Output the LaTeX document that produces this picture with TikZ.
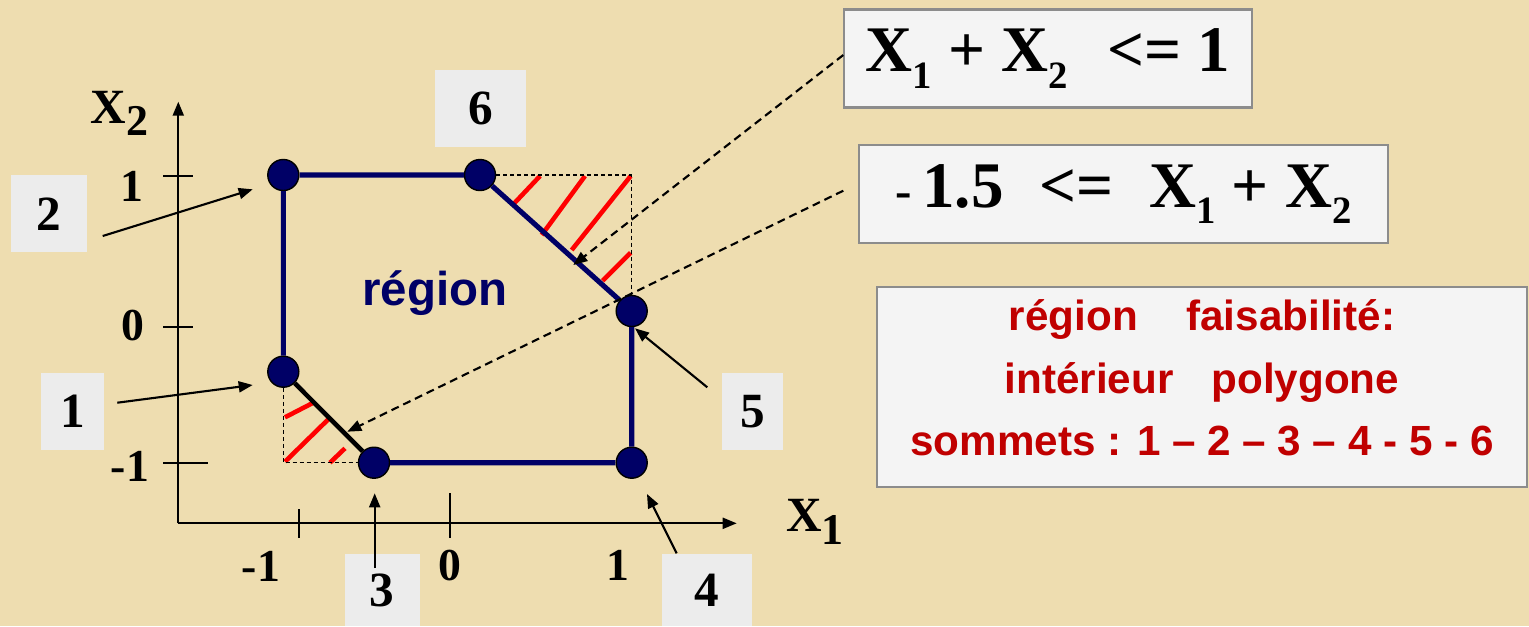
\documentclass[tikz,border=0pt]{standalone}
\usepackage{fontspec}
\setmainfont{Liberation Serif}
\setsansfont{Liberation Sans}
\usepackage{xcolor}
\usepackage{tikz}
\usetikzlibrary{arrows.meta,positioning,calc}
\definecolor{parchment}{RGB}{238,221,176}
\definecolor{navy}{RGB}{0,0,102}
\definecolor{darkred}{RGB}{192,0,0}
\definecolor{boxgray}{RGB}{244,244,244}
\definecolor{tabgray}{RGB}{236,236,236}
\definecolor{rimgray}{RGB}{140,140,140}
\newcommand{\Xsub}[2][11]{X\raisebox{-0.25em}{\fontsize{#1}{#1}\selectfont #2}}

\begin{document}
\begin{tikzpicture}[
            x=0.01cm,y=-0.01cm,
            vertex/.style={circle,draw=black,line width=0.4pt,fill=navy,minimum size=0.31cm,inner sep=0pt},
            side/.style={navy,line width=1.45pt},
            hatch/.style={red,line width=1.3pt},
            guide/.style={line width=0.4pt,dash pattern=on 0.4mm off 0.3mm},
            axis/.style={-{Triangle[length=1.4mm,width=1.1mm]},line width=0.6pt},
            axistick/.style={line width=0.6pt},
            pointer/.style={-{Triangle[length=1.4mm,width=1.1mm]},line width=0.6pt},
            dashptr/.style={pointer,dash pattern=on 0.8mm off 0.5mm},
            ticklab/.style={inner sep=0pt,font=\fontsize{13}{13}\selectfont\bfseries},
            numbox/.style={fill=tabgray,minimum height=0.77cm,inner sep=0pt,font=\fontsize{14}{14}\selectfont\bfseries},
            eqbox/.style={draw=rimgray,line width=0.6pt,fill=boxgray,minimum height=0.98cm,inner sep=0pt,font=\fontsize{18.5}{20}\selectfont\bfseries}
        ]
            \path[use as bounding box,fill=parchment] (0,0) rectangle (1529,626);

            \coordinate (O) at (178.3,523.3);
            \coordinate (ytop) at (178.3,101.7);
            \coordinate (xend) at (736.7,523.3);
            \draw[axis] (O) -- (ytop);
            \draw[axis] (O) -- (xend);
            \foreach \yy/\xx in {176/193,326.7/193,462.7/208}
                \draw[axistick] (163,\yy) -- (\xx,\yy);
            \draw[axistick] (299.2,509) -- (299.2,538.3);
            \draw[axistick] (449.8,493) -- (449.8,538.3);
            \foreach \xx/\yy/\txt in {131.7/186/1,132.5/326/0,130/466/-1,261/566/-1,450/566/0,618/565/1}
                \node[ticklab] at (\xx,\yy) {\txt};
            \node[anchor=base west,inner sep=0pt,font=\fontsize{14}{14}\selectfont\bfseries] (x2lab) at (90,123.3) {\Xsub[12.5]{2}};
            \node[anchor=base west,inner sep=0pt,font=\fontsize{14}{14}\selectfont\bfseries] (x1lab) at (785.7,531.7) {\Xsub[12.5]{1}};

            \coordinate (c65) at (631.7,175);
            \coordinate (c13) at (283.3,462.7);
            \foreach \ax/\ay/\bx/\by in {511.7/206/540/176,541.7/235/585/176,571.7/250/630.7/176,602.7/280.7/630.7/252.7,285/417.3/313.3/402.7,285/461.7/328.3/419.3,330/462.7/345/448.3}
                \draw[hatch] (\ax,\ay) -- (\bx,\by);

            \node[vertex] (v1) at (283.3,371.7) {};
            \node[vertex] (v2) at (283.3,175) {};
            \node[vertex] (v3) at (374,462.7) {};
            \node[vertex] (v4) at (631.7,462.7) {};
            \node[vertex] (v5) at (631.7,311) {};
            \node[vertex] (v6) at (480,175) {};

            \draw[guide] (v6) -- (c65) -- (v5);
            \draw[guide] (v1) -- (c13) -- (v3);
            \draw[side] (v1) -- (v2) -- (v6) -- (v5) -- (v4) -- (v3);
            \draw[black,line width=1.3pt] (v1) -- (v3);

            \node[anchor=base,inner sep=0pt,text=navy,font=\sffamily\bfseries\fontsize{13.5}{13.5}\selectfont] (reg) at (435,305) {région};

            \node[numbox,minimum width=0.76cm] (n2) at (49,213.8) {2};
            \node[numbox,minimum width=0.62cm] (n1) at (72.5,411.3) {1};
            \node[numbox,minimum width=0.91cm] (n6) at (480.5,108.8) {6};
            \node[numbox,minimum width=0.75cm,minimum height=0.72cm] (n3) at (382.3,590) {3};
            \node[numbox,minimum width=0.89cm,minimum height=0.72cm] (n4) at (707,590) {4};
            \node[numbox,minimum width=0.60cm] (n5) at (752.5,411.3) {5};

            \coordinate (t2) at (102.7,236);   \coordinate (p2) at (252.7,189.3);
            \coordinate (t1) at (117.3,402.7); \coordinate (p1) at (252.7,385);
            \coordinate (t3) at (374.7,568);   \coordinate (p3) at (374.7,493.3);
            \coordinate (t4) at (676.7,553.3); \coordinate (p4) at (647,494);
            \coordinate (t5) at (707.3,387.3); \coordinate (p5) at (635,328.3);
            \draw[pointer] (t2) -- (p2);
            \draw[pointer] (t1) -- (p1);
            \draw[pointer] (t3) -- (p3);
            \draw[pointer] (t4) -- (p4);
            \draw[pointer] (t5) -- (p5);

            \node[eqbox,minimum width=4.08cm] (eqA) at (1048,58.5) {\Xsub{1} + \Xsub{2}\hspace{0.6em}<= 1};
            \node[eqbox,minimum width=5.29cm] (eqB) at (1123.3,194.3) {{\fontsize{14}{14}\selectfont -}\,1.5\hspace{0.55em}<=\hspace{0.55em}\Xsub{1} + \Xsub{2}};
            \node[draw=rimgray,line width=0.6pt,fill=boxgray,minimum width=6.5cm,minimum height=1.96cm,align=center,text=darkred,font=\sffamily\bfseries\fontsize{12}{17.9}\selectfont] (info) at (1202,387)
                {région\hspace{1.15em}faisabilité:\\intérieur\hspace{0.9em}polygone\\sommets : 1 – 2 – 3 – 4 - 5 - 6\strut};

            \coordinate (tA) at (843.3,55);    \coordinate (pA) at (573.3,265);
            \coordinate (tB) at (843.3,190.7); \coordinate (pB) at (347.3,431.7);
            \draw[dashptr] (tA) -- (pA);
            \draw[dashptr] (tB) -- (pB);
        \end{tikzpicture}
\end{document}
